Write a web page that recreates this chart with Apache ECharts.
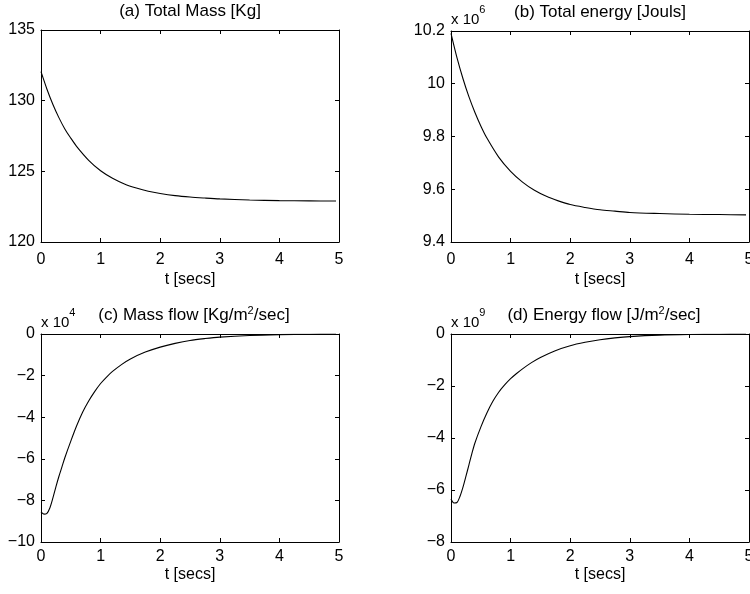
<!DOCTYPE html>
<html>
<head>
<meta charset="utf-8">
<script src="https://cdn.jsdelivr.net/npm/echarts@6/dist/echarts.min.js"></script>
<style>
  html, body { margin: 0; padding: 0; background: #fff; }
  #chart { width: 750px; height: 594px; }
</style>
</head>
<body>
<div id="chart"></div>
<script>
// time samples (secs)
const timeDecay = [0, 0.1, 0.2, 0.3, 0.4, 0.5, 0.6, 0.8, 1.0, 1.2, 1.4, 1.6, 1.8, 2.0, 2.25, 2.5, 2.75, 3.0, 3.5, 4.0, 4.5, 4.95];
const timeFlow = [0, 0.05, 0.1, 0.15, 0.2, 0.25, 0.3, 0.35, 0.4, 0.5, 0.6, 0.7, 0.8, 0.9, 1.0, 1.1, 1.2, 1.35, 1.5, 1.75, 2.0, 2.25, 2.5, 2.75, 3.0, 3.5, 4.0, 4.5, 4.95];

// (a) total mass [Kg]
const massTotal = [132.05, 130.81, 129.73, 128.8, 128.0, 127.35, 126.75, 125.78, 125.04, 124.51, 124.11, 123.82, 123.59, 123.43, 123.28, 123.18, 123.11, 123.05, 122.97, 122.93, 122.91, 122.9];
// (b) total energy [x 10^6 Jouls]
const energyTotal = [10.191, 10.099, 10.02, 9.951, 9.892, 9.84, 9.795, 9.722, 9.668, 9.627, 9.596, 9.573, 9.556, 9.542, 9.531, 9.522, 9.517, 9.512, 9.508, 9.505, 9.504, 9.503];
// (c) mass flow [x 10^4 Kg/m2/sec]
const massFlow = [-8.55, -8.66, -8.62, -8.35, -7.88, -7.35, -6.85, -6.4, -5.95, -5.15, -4.4, -3.75, -3.22, -2.77, -2.38, -2.07, -1.8, -1.47, -1.2, -0.87, -0.63, -0.45, -0.31, -0.22, -0.15, -0.07, -0.03, -0.01, 0];
// (d) energy flow [x 10^9 J/m2/sec]
const energyFlow = [-6.35, -6.5, -6.48, -6.25, -5.9, -5.48, -5.04, -4.6, -4.2, -3.58, -3.05, -2.6, -2.24, -1.96, -1.72, -1.52, -1.34, -1.1, -0.9, -0.64, -0.45, -0.32, -0.22, -0.15, -0.1, -0.045, -0.02, -0.008, 0];

// axis ranges [min, max, interval]
const xRange = [0, 5, 1];
const yRangeA = [120, 135, 5];
const yRangeB = [9.4, 10.2, 0.2];
const yRangeC = [-10, 0, 2];
const yRangeD = [-8, 0, 2];

const titles = ["{n|(a) Total Mass [Kg]}", "{n|(b) Total energy [Jouls]}", "{n|(c) Mass flow [Kg/m}{s|2}{n|/sec]}", "{n|(d) Energy flow [J/m}{s|2}{n|/sec]}"];
const exponents = [null, "6", "4", "9"];

const FONT = "'Liberation Sans', Arial, Helvetica, sans-serif";

const chart = echarts.init(document.getElementById("chart"), null, { renderer: "canvas" });

const panels = [
  { grid: { left: 41, top: 30, width: 298, height: 212 }, y: yRangeA, t: timeDecay, v: massTotal, tx: 190, nameGap: 30, margin: 10 },
  { grid: { left: 451, top: 31, width: 298, height: 211 }, y: yRangeB, t: timeDecay, v: energyTotal, tx: 600, nameGap: 30, margin: 10 },
  { grid: { left: 41, top: 334, width: 298, height: 208 }, y: yRangeC, t: timeFlow, v: massFlow, tx: 194, nameGap: 25, margin: 7 },
  { grid: { left: 451, top: 334, width: 298, height: 208 }, y: yRangeD, t: timeFlow, v: energyFlow, tx: 604, nameGap: 25, margin: 7 }
];

function fmt(v) {
  let s = String(parseFloat(v.toFixed(2)));
  return s.replace("-", "\u2212");
}

function axisLine() {
  return { show: true, onZero: false, lineStyle: { color: "#000", width: 1 } };
}
function tick() {
  return { show: true, inside: true, length: 4, lineStyle: { color: "#000", width: 1 } };
}
const labelStyle = { color: "#000", fontSize: 16, fontFamily: FONT };

let grid = [], xAxis = [], yAxis = [], series = [], graphic = [];

panels.forEach(function(p, i) {
  grid.push(Object.assign({ outerBoundsMode: "none", containLabel: false }, p.grid));
  // bottom x axis
  xAxis.push({
    type: "value", gridIndex: i, position: "bottom",
    min: xRange[0], max: xRange[1], interval: xRange[2],
    axisLine: axisLine(), axisTick: tick(), splitLine: { show: false },
    axisLabel: Object.assign({ margin: p.margin, formatter: fmt }, labelStyle),
    name: "t [secs]", nameLocation: "middle", nameGap: p.nameGap,
    nameTextStyle: labelStyle
  });
  // top x axis (box + ticks)
  xAxis.push({
    type: "value", gridIndex: i, position: "top",
    min: xRange[0], max: xRange[1], interval: xRange[2],
    axisLine: axisLine(), axisTick: tick(), splitLine: { show: false },
    axisLabel: { show: false }
  });
  // left y axis
  yAxis.push({
    type: "value", gridIndex: i, position: "left",
    min: p.y[0], max: p.y[1], interval: p.y[2],
    axisLine: axisLine(), axisTick: tick(), splitLine: { show: false },
    axisLabel: Object.assign({ margin: 6, formatter: fmt }, labelStyle)
  });
  // right y axis
  yAxis.push({
    type: "value", gridIndex: i, position: "right",
    min: p.y[0], max: p.y[1], interval: p.y[2],
    axisLine: axisLine(), axisTick: tick(), splitLine: { show: false },
    axisLabel: { show: false }
  });
  series.push({
    type: "line",
    xAxisIndex: i * 2, yAxisIndex: i * 2,
    data: p.t.map(function(t, k) { return [t, p.v[k]]; }),
    showSymbol: false,
    smooth: 0.3,
    lineStyle: { color: "#000", width: 1.1 },
    silent: true
  });

  // panel title
  graphic.push({
    type: "text",
    x: p.tx, y: p.grid.top - 18.5,
    style: {
      text: titles[i],
      align: "center", verticalAlign: "middle",
      textAlign: "center", textVerticalAlign: "middle",
      fill: "#000",
      rich: {
        n: { fontSize: 17, fontFamily: FONT, lineHeight: 20, fill: "#000" },
        s: { fontSize: 11, fontFamily: FONT, lineHeight: 11, verticalAlign: "top", fill: "#000" }
      }
    }
  });

  // multiplier "x 10^n"
  if (exponents[i]) {
    graphic.push({
      type: "text",
      x: p.grid.left, y: p.grid.top - 11,
      style: {
        text: "{n|x 10}{e|" + exponents[i] + "}",
        align: "left", verticalAlign: "middle",
        textAlign: "left", textVerticalAlign: "middle",
        fill: "#000",
        rich: {
          n: { fontSize: 15, fontFamily: FONT, lineHeight: 32, fill: "#000" },
          e: { fontSize: 11, fontFamily: FONT, lineHeight: 11, verticalAlign: "top", fill: "#000" }
        }
      }
    });
  }
});

chart.setOption({
  animation: false,
  backgroundColor: "#fff",
  grid: grid,
  xAxis: xAxis,
  yAxis: yAxis,
  series: series,
  graphic: graphic
});
</script>
</body>
</html>
